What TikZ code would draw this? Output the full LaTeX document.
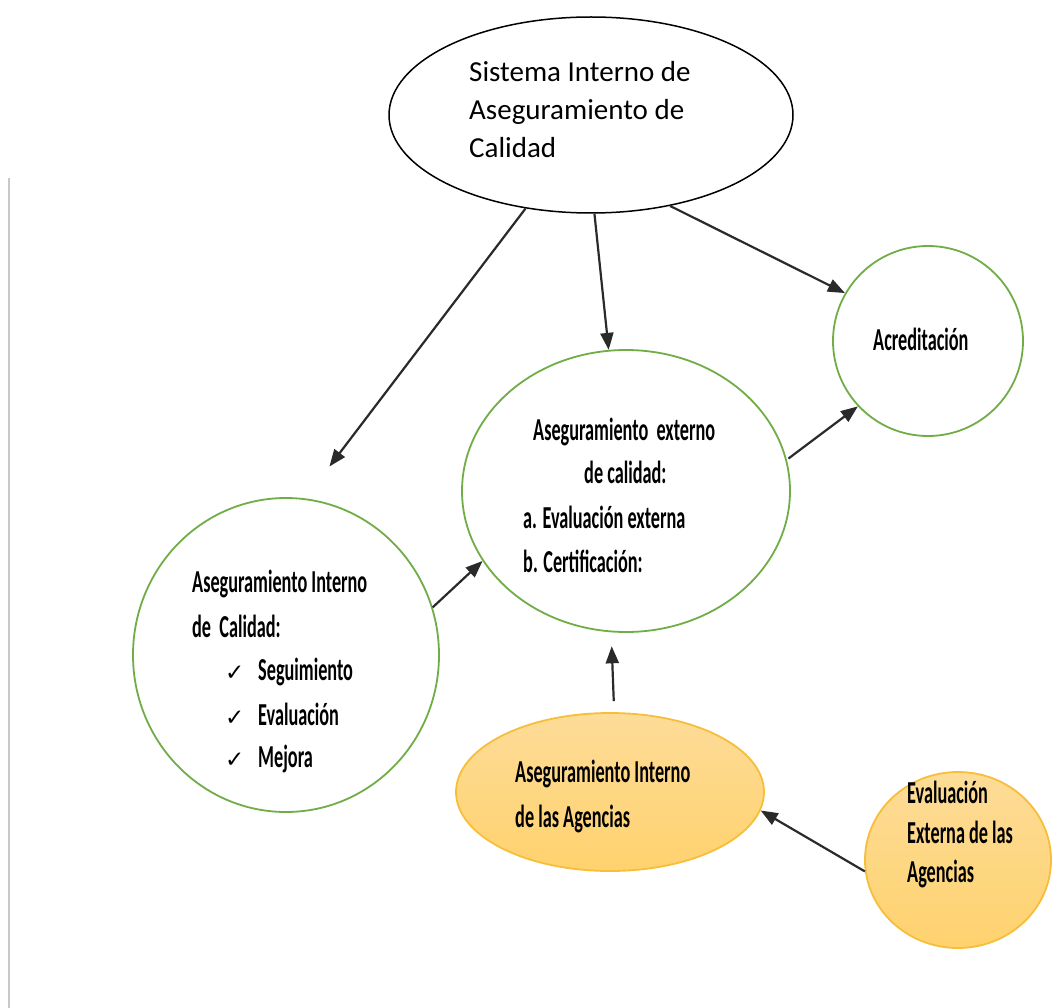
\documentclass[tikz,border=0pt]{standalone}
\usepackage{fontspec}
\setmainfont{Carlito}
\newfontfamily\cnd[FakeStretch=0.57]{Carlito}
\newfontfamily\dejavu{DejaVu Sans}
\usetikzlibrary{shapes.geometric,arrows.meta}
\definecolor{grn}{HTML}{70AD47}
\definecolor{oborder}{HTML}{F7BE3A}
\definecolor{otop}{HTML}{FDDC98}
\definecolor{obot}{HTML}{FFD26E}
\definecolor{arrcol}{HTML}{2A2A2A}
\definecolor{vline}{HTML}{C8C8C8}
\begin{document}
\begin{tikzpicture}[x=1pt,y=-1pt,
  blob/.style={shape=ellipse, inner sep=0pt},
  blackblob/.style={blob, draw=black, line width=1.5pt},
  greenblob/.style={blob, draw=grn, line width=1.8pt},
  orangeblob/.style={blob, draw=oborder, line width=1.8pt, top color=otop, bottom color=obot},
  toptxt/.style={anchor=base west, inner sep=0pt, font=\fontsize{29}{35}\selectfont},
  ctxt/.style={anchor=base west, inner sep=0pt, font=\cnd\bfseries\fontsize{32}{38}\selectfont},
  chk/.style={anchor=base west, inner sep=0pt, font=\dejavu\fontsize{23}{26}\selectfont},
  arr/.style={draw=arrcol, line width=2.2pt, -{Triangle[length=17pt,width=13pt]}}]
\useasboundingbox (0,0) rectangle (1052,1008);
\fill[white] (0,0) rectangle (1052,1008);
\draw[vline, line width=2pt] (8.5,178) -- (8.5,1008);

% shapes
\node[blackblob, minimum width=404pt, minimum height=196pt] (top) at (591,115) {};
\node[greenblob, minimum width=190pt, minimum height=190pt] (acr) at (928,341) {};
\node[greenblob, minimum width=328pt, minimum height=282pt] (mid) at (626,491) {};
\node[greenblob, minimum width=306pt, minimum height=314pt] (left) at (286,655) {};
\node[orangeblob, minimum width=308pt, minimum height=158pt] (oell) at (610,792) {};
\node[orangeblob, minimum width=186pt, minimum height=176pt] (ocirc) at (958,860) {};

% texts
\node[toptxt] (t1) at (469,82) {Sistema Interno de};
\node[toptxt] (t2) at (469,120) {Aseguramiento de};
\node[toptxt] (t3) at (469,158) {Calidad};

\node[ctxt] (a1) at (873,350) {Acreditación};

\node[ctxt] (m1) at (533,440) {Aseguramiento\ \ externo};
\node[ctxt] (m2) at (584,483) {de calidad:};
\node[ctxt] (m3) at (523,528) {a. Evaluación externa};
\node[ctxt] (m4) at (523,572) {b. Certificación:};

\node[ctxt] (l1) at (192,592) {Aseguramiento Interno};
\node[ctxt] (l2) at (192,637) {de\ \ Calidad:};
\node[chk] (c1) at (225,680) {✓};
\node[chk] (c2) at (225,725) {✓};
\node[chk] (c3) at (225,767) {✓};
\node[ctxt] (l3) at (258,680) {Seguimiento};
\node[ctxt] (l4) at (258,725) {Evaluación};
\node[ctxt] (l5) at (258,767) {Mejora};

\node[ctxt] (o1) at (515,782) {Aseguramiento Interno};
\node[ctxt] (o2) at (515,827) {de las Agencias};

\node[ctxt] (e1) at (907,803) {Evaluación};
\node[ctxt] (e2) at (907,843) {Externa de las};
\node[ctxt] (e3) at (907,882) {Agencias};

% connectors
\draw[arr, shorten >=40pt] (top.-125) -- (left.83);
\draw[arr] (top.-88) -- (mid.97);
\draw[arr] (top.-49) -- (acr.150);
\draw[arr, shorten <=2pt] (mid.11) -- (acr.-137);
\draw[arr] (left.18) -- (mid.206);
\draw[arr, shorten <=11pt, shorten >=14pt] (oell.87) -- (mid.264);
\draw[arr] (ocirc.187) -- (oell.-7);
\end{tikzpicture}
\end{document}
